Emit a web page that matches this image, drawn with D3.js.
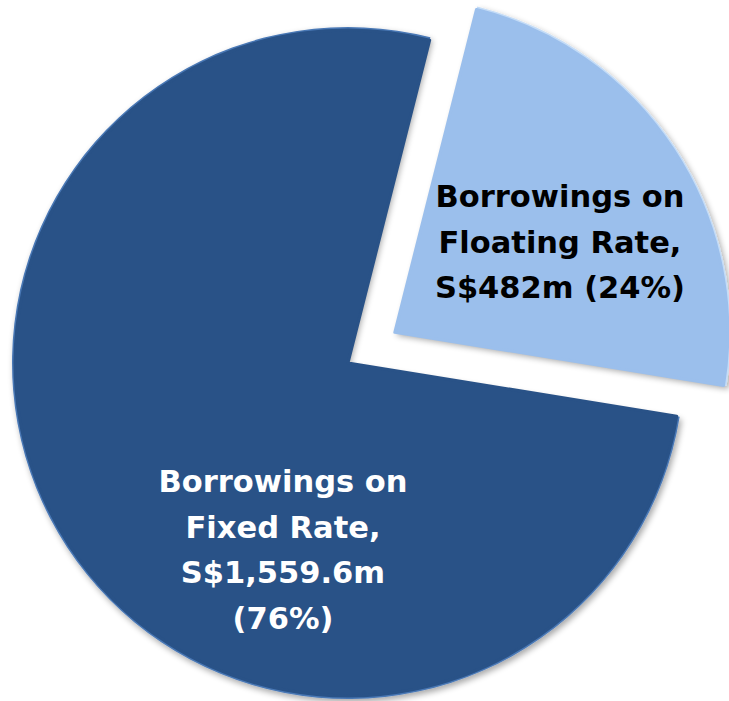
<!DOCTYPE html>
<html>
<head>
<meta charset="UTF-8">
<script src="https://cdn.jsdelivr.net/npm/d3@7"></script>
<style>
body { margin: 0; background: #fff; }
text { font-family: "Century Gothic", "DejaVu Sans", sans-serif; font-weight: bold; }
</style>
</head>
<body>
<script>
var categories = ["Floating Rate", "Fixed Rate"];
var values = [482, 1559.6];
var labels = [
    ["Borrowings on", "Floating Rate,", "S$482m (24%)"],
    ["Borrowings on", "Fixed Rate,", "S$1,559.6m", "(76%)"]
];
var fills = ["#9bbfec", "#295287"];
var rims = ["#c4dcf7", "#4a78b5"];
var textColors = ["#000", "#fff"];

var width = 729, height = 701;
var cx = 348, cy = 363, r = 336;
var explode = [56, 0];
// label anchors (centre x, first baseline y)
var labelPos = [[560, 207], [283, 492]];
var lineGap = 45.5;

var svg = d3.select("body").append("svg")
    .attr("width", width)
    .attr("height", height);

var defs = svg.append("defs");
var f = defs.append("filter").attr("id", "shadow")
    .attr("x", "-10%").attr("y", "-10%").attr("width", "120%").attr("height", "120%");
f.append("feGaussianBlur").attr("in", "SourceAlpha").attr("stdDeviation", 3);
f.append("feOffset").attr("dx", 2).attr("dy", 3).attr("result", "b");
f.append("feComponentTransfer").append("feFuncA").attr("type", "linear").attr("slope", 0.35);
var m = f.append("feMerge");
m.append("feMergeNode");
m.append("feMergeNode").attr("in", "SourceGraphic");

var pie = d3.pie().sort(null).value(function(d){ return d; })
    .startAngle(14.2 * Math.PI / 180)
    .endAngle(14.2 * Math.PI / 180 + 2 * Math.PI);
var arcs = pie(values);

var arc = d3.arc().innerRadius(0).outerRadius(r);
var rimArc = d3.arc().innerRadius(0).outerRadius(r - 3);

var g = svg.selectAll("g.slice")
    .data(arcs)
    .enter()
    .append("g")
    .attr("class", "slice")
    .attr("transform", function(d, i){
        var a = (d.startAngle + d.endAngle) / 2;
        return "translate(" + (cx + Math.sin(a) * explode[i]) + "," + (cy - Math.cos(a) * explode[i]) + ")";
    });

g.append("path")
    .attr("d", arc)
    .attr("fill", function(d, i){ return rims[i]; })
    .attr("filter", "url(#shadow)");

g.append("path")
    .attr("d", rimArc)
    .attr("fill", function(d, i){ return fills[i]; })
    .attr("stroke", function(d, i){ return fills[i]; })
    .attr("stroke-width", 3)
    .attr("stroke-linejoin", "round");

svg.selectAll("text.lbl")
    .data(labels)
    .enter()
    .append("text")
    .attr("class", "lbl")
    .attr("text-anchor", "middle")
    .attr("font-size", 30.5)
    .attr("fill", function(d, i){ return textColors[i]; })
    .each(function(lines, i){
        var t = d3.select(this);
        lines.forEach(function(s, k){
            t.append("tspan")
                .attr("x", labelPos[i][0])
                .attr("y", labelPos[i][1] + k * lineGap)
                .text(s);
        });
    });
</script>
</body>
</html>
